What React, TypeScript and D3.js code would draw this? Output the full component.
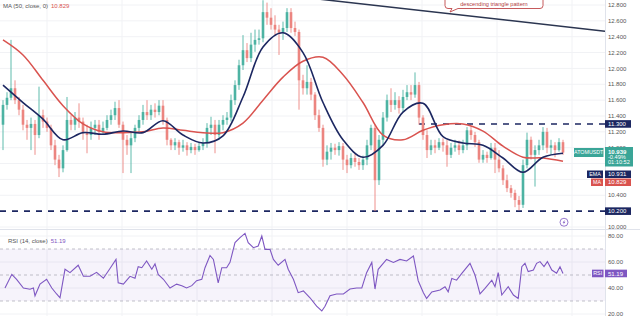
import React, { useEffect } from 'react';
import * as d3 from 'd3';

// ---- data ----
const opens = [
  11.29, 11.54, 11.63, 11.75, 11.60, 11.48, 11.29, 11.25, 11.30, 11.16,
  11.41, 11.33, 11.25, 11.03, 10.85, 10.74, 10.97, 11.35, 11.29, 11.38,
  11.33, 11.20, 11.16, 11.25, 11.29, 11.20, 11.25, 11.35, 11.41, 11.50,
  11.29, 11.10, 11.03, 11.12, 11.25, 11.35, 11.45, 11.41, 11.48, 11.45,
  11.53, 11.35, 11.10, 11.03, 11.07, 11.00, 11.03, 10.97, 11.01, 10.97,
  11.02, 11.06, 11.25, 11.29, 11.16, 11.29, 11.35, 11.38, 11.60, 11.79,
  12.04, 12.23, 12.13, 12.30, 12.36, 12.38, 12.71, 12.64, 12.55, 12.49,
  12.45, 12.51, 12.71, 12.51, 12.46, 11.85, 11.75, 11.83, 11.67, 11.41,
  11.25, 10.85, 10.95, 11.00, 10.97, 11.02, 10.85, 10.78, 10.87, 10.82,
  10.78, 10.85, 11.03, 11.25, 10.59, 11.10, 11.38, 11.60, 11.54, 11.60,
  11.50, 11.64, 11.70, 11.67, 11.79, 11.38, 11.16, 10.97, 11.03, 11.00,
  11.07, 11.03, 10.91, 11.00, 11.03, 10.97, 11.03, 11.22, 11.16, 11.07,
  10.85, 10.91, 10.87, 11.00, 10.85, 10.74, 10.59, 10.49, 10.43, 10.34,
  10.28, 10.78, 11.10, 10.91, 10.97, 11.03, 11.20, 11.00, 11.03, 10.97,
  11.07,
];
const closes = [
  11.54, 11.63, 11.75, 11.60, 11.48, 11.29, 11.25, 11.30, 11.16, 11.41,
  11.33, 11.25, 11.03, 10.85, 10.74, 10.97, 11.35, 11.29, 11.38, 11.33,
  11.20, 11.16, 11.25, 11.29, 11.20, 11.25, 11.35, 11.41, 11.50, 11.29,
  11.10, 11.03, 11.12, 11.25, 11.35, 11.45, 11.41, 11.48, 11.45, 11.53,
  11.35, 11.10, 11.03, 11.07, 11.00, 11.03, 10.97, 11.01, 10.97, 11.02,
  11.06, 11.25, 11.29, 11.16, 11.29, 11.35, 11.38, 11.60, 11.79, 12.04,
  12.23, 12.13, 12.30, 12.36, 12.38, 12.71, 12.64, 12.55, 12.49, 12.45,
  12.51, 12.71, 12.51, 12.46, 11.85, 11.75, 11.83, 11.67, 11.41, 11.25,
  10.85, 10.95, 11.00, 10.97, 11.02, 10.85, 10.78, 10.87, 10.82, 10.78,
  10.85, 11.03, 11.25, 10.59, 11.10, 11.38, 11.60, 11.54, 11.60, 11.50,
  11.64, 11.70, 11.67, 11.79, 11.38, 11.16, 10.97, 11.03, 11.00, 11.07,
  11.03, 10.91, 11.00, 11.03, 10.97, 11.03, 11.22, 11.16, 11.07, 10.85,
  10.91, 10.87, 11.00, 10.85, 10.74, 10.59, 10.49, 10.43, 10.34, 10.28,
  10.78, 11.10, 10.91, 10.97, 11.03, 11.20, 11.00, 11.03, 10.97, 11.07,
  10.939,
];
const highs = [
  11.60, 11.70, 12.36, 11.85, 11.64, 11.54, 11.35, 11.38, 11.35, 11.77,
  11.48, 11.38, 11.29, 11.10, 10.91, 11.03, 11.64, 11.41, 11.45, 11.56,
  11.38, 11.29, 11.33, 11.35, 11.35, 11.33, 11.41, 11.48, 11.58, 11.60,
  11.33, 11.16, 11.19, 11.29, 11.41, 11.54, 11.60, 11.54, 11.56, 11.60,
  11.60, 11.38, 11.12, 11.12, 11.10, 11.10, 11.07, 11.06, 11.05, 11.07,
  11.12, 11.31, 11.39, 11.35, 11.35, 11.41, 11.45, 11.67, 11.85, 12.11,
  12.42, 12.32, 12.45, 12.49, 12.49, 12.86, 12.83, 12.76, 12.67, 12.55,
  12.59, 12.76, 12.76, 12.59, 12.49, 11.92, 12.04, 11.88, 11.70, 11.48,
  11.29, 11.03, 11.06, 11.05, 11.07, 11.06, 10.91, 10.93, 10.92, 10.87,
  10.90, 11.10, 11.29, 11.29, 11.16, 11.45, 11.67, 11.75, 11.70, 11.65,
  11.73, 11.79, 11.79, 11.95, 11.83, 11.41, 11.22, 11.10, 11.10, 11.12,
  11.12, 11.10, 11.06, 11.10, 11.09, 11.10, 11.26, 11.27, 11.20, 11.10,
  10.97, 10.95, 11.06, 11.06, 10.97, 10.78, 10.66, 10.53, 10.47, 10.39,
  10.85, 11.19, 11.14, 11.03, 11.10, 11.26, 11.25, 11.10, 11.07, 11.12,
  11.10,
];
const lows = [
  10.97, 11.48, 11.60, 11.55, 11.41, 11.22, 11.10, 10.97, 10.91, 11.12,
  11.25, 11.20, 10.97, 10.78, 10.63, 10.69, 10.95, 11.22, 11.22, 11.25,
  11.10, 10.93, 11.10, 11.16, 11.10, 11.16, 11.22, 11.29, 11.35, 11.25,
  10.68, 10.91, 10.68, 11.07, 11.20, 11.29, 11.35, 11.35, 11.38, 11.41,
  11.29, 11.03, 10.97, 10.97, 10.91, 10.95, 10.90, 10.93, 10.91, 10.95,
  10.97, 11.00, 11.16, 10.93, 11.10, 11.22, 11.29, 11.33, 11.54, 11.73,
  11.98, 12.08, 12.08, 12.21, 12.30, 12.33, 12.55, 12.49, 12.42, 12.17,
  12.36, 12.46, 12.45, 12.41, 11.48, 11.67, 11.67, 11.60, 11.35, 11.20,
  10.76, 10.78, 10.85, 10.91, 10.90, 10.72, 10.68, 10.74, 10.76, 10.72,
  10.72, 10.78, 10.97, 10.20, 10.53, 11.03, 11.33, 11.45, 11.48, 11.43,
  11.45, 11.60, 11.60, 11.63, 11.29, 11.10, 10.87, 10.91, 10.93, 10.97,
  10.95, 10.76, 10.87, 10.95, 10.91, 10.93, 10.97, 11.10, 11.01, 10.81,
  10.81, 10.81, 10.85, 10.68, 10.69, 10.53, 10.44, 10.37, 10.25, 10.21,
  10.24, 10.74, 10.85, 10.51, 10.91, 10.97, 10.93, 10.91, 10.88, 10.95,
  10.91,
];

// EMA(20) and MA(50) read every 5 bars
const indicatorBars = [0, 5, 10, 15, 20, 25, 30, 35, 40, 45, 50, 55, 60, 65, 70, 75, 80, 85, 90, 95, 100, 105, 110, 115, 120, 125, 130, 135, 140];
const emaValues = [11.79, 11.57, 11.36, 11.10, 11.19, 11.17, 11.21, 11.19, 11.34, 11.16, 11.06, 11.15, 11.64, 12.27, 12.45, 12.20, 11.57, 11.10, 10.88, 11.03, 11.45, 11.56, 11.14, 11.06, 11.03, 10.87, 10.69, 10.88, 10.931];
const maValues = [12.36, 12.17, 11.85, 11.53, 11.30, 11.20, 11.19, 11.20, 11.25, 11.22, 11.19, 11.19, 11.31, 11.60, 11.89, 12.09, 12.14, 11.92, 11.57, 11.16, 11.10, 11.22, 11.29, 11.30, 11.21, 11.02, 10.88, 10.87, 10.829];

// RSI(14)
const rsiBars = [
  0.5, 2.2, 3.4, 5.1, 6.75, 7.6, 8.0, 9.25, 10.9, 12.2, 13.4, 14.25, 15.5, 16.75, 18.8, 20.1, 21.75, 23.4, 25.1, 26.75,
  28.25, 28.8, 30.1, 31.75, 33.0, 33.8, 34.7, 35.9, 37.2, 38.0, 38.8, 40.1, 41.75, 43.4, 44.7, 45.9, 47.2, 48.4, 49.7, 50.5,
  51.75, 52.6, 53.8, 54.7, 55.9, 56.75, 58.0, 59.25, 60.5, 61.3, 62.6, 63.8, 64.7, 65.5, 66.75, 67.6, 68.8, 70.5, 71.3, 72.6,
  73.8, 75.1, 76.75, 78.4, 79.7, 80.5, 81.75, 83.4, 85.1, 86.75, 88.4, 89.7, 90.9, 92.2, 93.0, 93.8, 95.9, 97.6, 99.25, 100.9,
  102.6, 103.8, 105.1, 105.9, 107.2, 109.25, 110.5, 111.3, 112.2, 113.4, 114.7, 116.75, 118.0, 119.25, 120.5, 122.2, 123.0, 123.8, 124.7, 126.3,
  127.6, 128.8, 129.7, 130.5, 131.3, 132.6, 133.4, 134.25, 135.25, 136.1, 137.2, 138.4, 139.25, 140,
];
const rsiValues = [
  40, 50.5, 46.7, 40, 39, 40, 34, 43, 46.7, 40, 35.4, 32.5, 54.4, 51.8, 57.5, 49, 49, 52, 47.5, 55,
  62, 44, 43, 49, 47.5, 56.4, 55.6, 60.8, 54.4, 58.5, 50.5, 46.7, 40, 43, 41.8, 40, 41.8, 45.6, 46.7, 55.6,
  65, 62, 44, 55.6, 55.6, 59.7, 74.9, 78.7, 82, 74.9, 71, 72.3, 80, 69.7, 69.7, 62, 57.5, 62, 54.4, 46.7,
  36.4, 37.7, 32.5, 26, 22.3, 26, 34, 35.4, 35.4, 39.2, 40, 40, 51.8, 59.7, 39.2, 54.4, 62, 59.7, 62, 60.8,
  64.6, 45.6, 36.4, 32, 37, 38.5, 41, 37, 47.4, 46, 51.3, 59, 50, 35.4, 39.7, 46, 41, 51.8, 34.6, 41,
  34.6, 32, 56.4, 59, 52.6, 53.8, 59, 60.3, 56.4, 60.3, 53.8, 51.3, 56.4, 51.19,
];

const priceTicks = [12.8, 12.6, 12.4, 12.2, 12.0, 11.8, 11.6, 11.4, 11.2, 11.0, 10.8, 10.6, 10.4, 10.0];
const hiddenPriceLabels = [10.8, 10.6]; // covered by the last-price / indicator tags
const rsiTicks = [80, 60, 40, 20];
const gridBars = [11, 29.75, 48.5, 67.25, 86, 104.75, 123.5, 142.25];
const trendBars = [70, 150.5];
const trendPrices = [12.925, 12.47];
const resistance = 11.3;
const support = 10.2;
const resistanceStartBar = 104;
const lastPrice = '10.939';
const lastChange = '-0.49%';
const countdown = '01:10:52';
const emaLast = '10.931';
const maLast = '10.829';
const rsiLast = '51.19';

const UP = '#4db3a3';
const DOWN = '#ec8580';
const NAVY = '#1c2761';
const MARED = '#d9534f';
const PURPLE = '#7e57c2';
const FONT = '"Liberation Sans", Arial, sans-serif';

export default function App() {
  useEffect(() => {
    document.body.style.margin = '0';
  }, []);

  const plotRight = 605;
  const x = d3.scaleLinear().domain([0, 140]).range([3, 563]);
  const y = d3.scaleLinear().domain([10, 12.8]).range([227, 5]);
  const ry = d3.scaleLinear().domain([20, 80]).range([314, 236]);
  const bodyW = 2.6;

  const lineGen = d3
    .line<[number, number]>()
    .x((d) => x(d[0]))
    .y((d) => y(d[1]))
    .curve(d3.curveCatmullRom.alpha(0.5));
  const emaPath = lineGen(indicatorBars.map((b, i) => [b, emaValues[i]] as [number, number])) || '';
  const maPath = lineGen(indicatorBars.map((b, i) => [b, maValues[i]] as [number, number])) || '';
  const rsiPath =
    d3
      .line<[number, number]>()
      .x((d) => x(d[0]))
      .y((d) => ry(d[1]))(rsiBars.map((b, i) => [b, rsiValues[i]] as [number, number])) || '';

  const axisX = 608;
  const fs = 6;

  return (
    <svg width={640} height={316} style={{ display: 'block', background: '#fff' }} fontFamily={FONT}>
      <defs>
        <clipPath id="mainClip">
          <rect x={0} y={0} width={plotRight} height={229} />
        </clipPath>
        <clipPath id="rsiClip">
          <rect x={0} y={230} width={plotRight} height={86} />
        </clipPath>
      </defs>

      {/* grid */}
      {priceTicks.map((p) => (
        <line key={'hg' + p} x1={0} x2={plotRight} y1={y(p)} y2={y(p)} stroke="#f1f2f5" strokeWidth={1} />
      ))}
      {rsiTicks.map((r) => (
        <line key={'rg' + r} x1={0} x2={plotRight} y1={ry(r)} y2={ry(r)} stroke="#f1f2f5" strokeWidth={1} />
      ))}
      {gridBars.map((b) => (
        <line key={'vg' + b} x1={x(b)} x2={x(b)} y1={0} y2={316} stroke="#f1f2f5" strokeWidth={1} />
      ))}

      {/* main pane */}
      <g clipPath="url(#mainClip)">
        <line x1={0} x2={plotRight} y1={y(support)} y2={y(support)} stroke={NAVY} strokeWidth={1.6} strokeDasharray="6 6" />
        <line
          x1={x(resistanceStartBar)}
          x2={plotRight}
          y1={y(resistance)}
          y2={y(resistance)}
          stroke={NAVY}
          strokeWidth={1.6}
          strokeDasharray="6 6"
        />
        {closes.map((c, i) => {
          const o = opens[i];
          const up = c >= o;
          const col = up ? UP : DOWN;
          const cx = x(i);
          const top = y(Math.max(o, c));
          const bot = y(Math.min(o, c));
          return (
            <g key={'c' + i}>
              <line x1={cx} x2={cx} y1={y(highs[i])} y2={y(lows[i])} stroke={col} strokeWidth={0.9} />
              <rect x={cx - bodyW / 2} y={top} width={bodyW} height={Math.max(0.8, bot - top)} fill={col} />
            </g>
          );
        })}
        <path d={maPath} fill="none" stroke={MARED} strokeWidth={1.5} />
        <path d={emaPath} fill="none" stroke={NAVY} strokeWidth={1.6} />
        <line
          x1={x(trendBars[0])}
          y1={y(trendPrices[0])}
          x2={x(trendBars[1])}
          y2={y(trendPrices[1])}
          stroke="#2b3550"
          strokeWidth={1.5}
        />
        {/* callout */}
        <path
          d="M448,-6 L540,-6 Q543,-6 543,-3 L543,5.5 Q543,8.5 540,8.5 L458,8.5 L450,12 L452,8.5 L448,8.5 Q445,8.5 445,5.5 L445,-3 Q445,-6 448,-6 Z"
          fill="#fff"
          stroke="#c0474a"
          strokeWidth={0.9}
        />
        <text x={494} y={6} textAnchor="middle" fontSize={5.6} fill="#b03a3e">
          descending triangle pattern
        </text>
        <g transform={`translate(${x(140) + 1},${y(10.06)})`}>
          <circle r={4} fill="#fff" stroke={PURPLE} strokeWidth={0.8} />
          <path d="M0.8,-2.6 L-1.4,0.4 L0,0.4 L-0.8,2.6 L1.4,-0.4 L0,-0.4 Z" fill={PURPLE} />
        </g>
      </g>

      {/* legend */}
      <text x={3} y={8} fontSize={fs} fill="#555">
        MA (50, close, 0)
        <tspan dx={3} fill={MARED}>
          {maLast}
        </tspan>
      </text>

      {/* separators */}
      <line x1={0} x2={640} y1={229.5} y2={229.5} stroke="#e0e3eb" strokeWidth={1} />
      <line x1={plotRight + 0.5} x2={plotRight + 0.5} y1={0} y2={316} stroke="#e0e3eb" strokeWidth={1} />

      {/* RSI pane */}
      <g clipPath="url(#rsiClip)">
        <rect x={0} y={ry(70)} width={plotRight} height={ry(30) - ry(70)} fill="rgba(126,87,194,0.07)" />
        {[70, 50, 30].map((r) => (
          <line
            key={'rb' + r}
            x1={0}
            x2={plotRight}
            y1={ry(r)}
            y2={ry(r)}
            stroke="#a6a6b3"
            strokeWidth={0.7}
            strokeDasharray="3 3"
          />
        ))}
        <path d={rsiPath} fill="none" stroke={PURPLE} strokeWidth={1.1} />
      </g>
      <text x={8} y={242.5} fontSize={fs} fill="#555">
        RSI (14, close)
        <tspan dx={3} fill={PURPLE}>
          {rsiLast}
        </tspan>
      </text>

      {/* price axis labels */}
      {priceTicks
        .filter((p) => !hiddenPriceLabels.includes(p))
        .map((p) => (
          <text key={'pl' + p} x={axisX} y={y(p)} dy="0.35em" fontSize={fs} fill="#555">
            {p.toFixed(3)}
          </text>
        ))}
      {rsiTicks.map((r) => (
        <text key={'rl' + r} x={axisX} y={ry(r)} dy="0.35em" fontSize={fs} fill="#555">
          {r.toFixed(2)}
        </text>
      ))}

      {/* level boxes */}
      <rect x={605} y={y(resistance) - 3.8} width={26} height={7.6} fill={NAVY} />
      <text x={axisX} y={y(resistance)} dy="0.35em" fontSize={fs} fill="#fff">
        {resistance.toFixed(3)}
      </text>
      <rect x={605} y={y(support) - 3.8} width={26} height={7.6} fill={NAVY} />
      <text x={axisX} y={y(support)} dy="0.35em" fontSize={fs} fill="#fff">
        {support.toFixed(3)}
      </text>

      {/* last price stack */}
      <rect x={574} y={148} width={29.5} height={9} fill="#3aa597" />
      <text x={588.7} y={152.5} dy="0.35em" textAnchor="middle" fontSize={5.3} fill="#fff">
        ATOMUSDT
      </text>
      <rect x={605} y={147} width={28} height={19.5} fill="#3aa597" />
      <text x={axisX} y={152.3} dy="0.35em" fontSize={fs} fill="#fff" fontWeight="bold">
        {lastPrice}
      </text>
      <text x={axisX} y={157.2} dy="0.35em" fontSize={5.6} fill="#fff">
        {lastChange}
      </text>
      <text x={axisX} y={162.1} dy="0.35em" fontSize={5.6} fill="#fff">
        {countdown}
      </text>

      {/* EMA tag */}
      <rect x={587} y={170.5} width={16} height={7.5} fill={NAVY} />
      <text x={595} y={174.2} dy="0.35em" textAnchor="middle" fontSize={5.4} fill="#fff">
        EMA
      </text>
      <rect x={605} y={170.5} width={26} height={7.5} fill={NAVY} />
      <text x={axisX} y={174.2} dy="0.35em" fontSize={fs} fill="#fff">
        {emaLast}
      </text>

      {/* MA tag */}
      <rect x={591} y={178.5} width={12} height={7.5} fill={MARED} />
      <text x={597} y={182.2} dy="0.35em" textAnchor="middle" fontSize={5.4} fill="#fff">
        MA
      </text>
      <rect x={605} y={178.5} width={26} height={7.5} fill={MARED} />
      <text x={axisX} y={182.2} dy="0.35em" fontSize={fs} fill="#fff">
        {maLast}
      </text>

      {/* RSI tag */}
      <rect x={592} y={ry(51.19) - 3.8} width={11.5} height={7.6} fill={PURPLE} />
      <text x={597.7} y={ry(51.19)} dy="0.35em" textAnchor="middle" fontSize={5.4} fill="#fff">
        RSI
      </text>
      <rect x={605} y={ry(51.19) - 3.8} width={22} height={7.6} fill={PURPLE} />
      <text x={axisX} y={ry(51.19)} dy="0.35em" fontSize={fs} fill="#fff">
        {rsiLast}
      </text>
    </svg>
  );
}
